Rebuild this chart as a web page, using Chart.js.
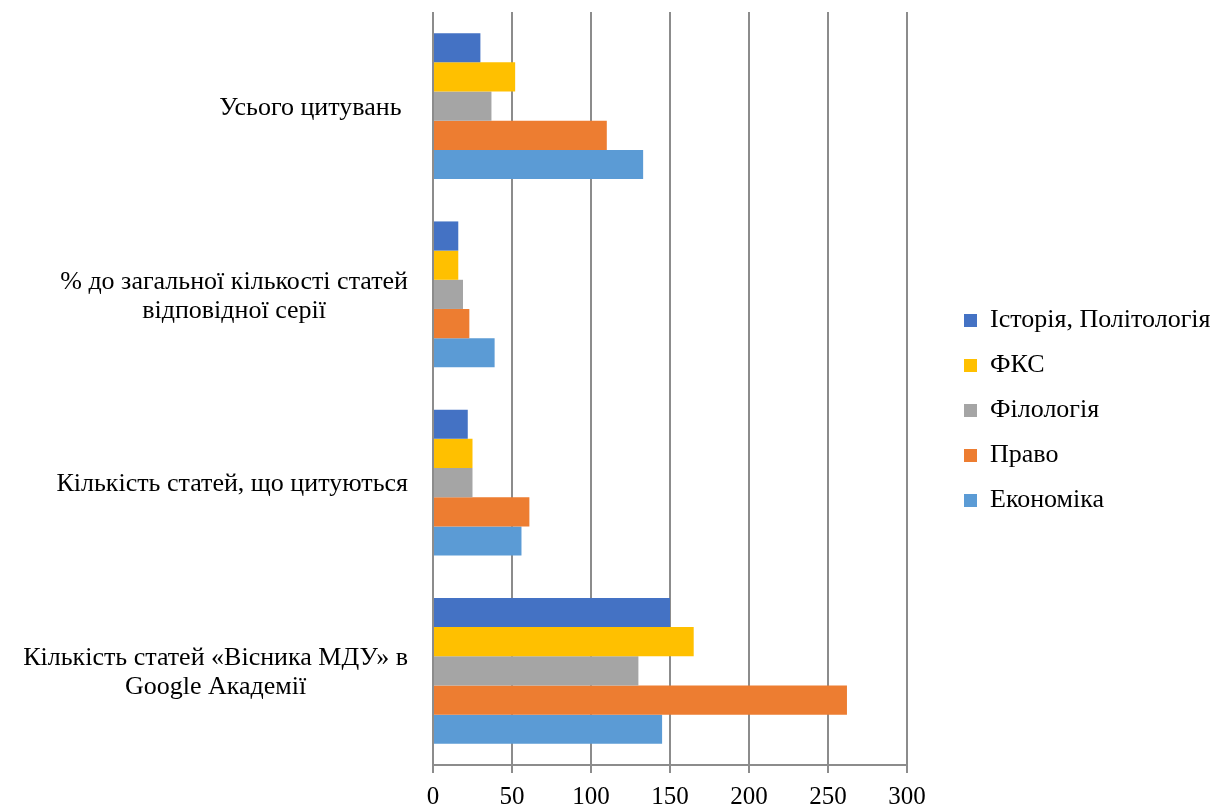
<!DOCTYPE html>
<html>
<head>
<meta charset="utf-8">
<script src="https://cdn.jsdelivr.net/npm/chart.js@4.4.1/dist/chart.umd.min.js"></script>
<style>
  html, body { margin: 0; padding: 0; background: #fff; }
  #chart { display: block; }
</style>
</head>
<body>
<canvas id="chart" width="1231" height="809"></canvas>
<script>
// Citations of "Visnyk MDU" articles by series

const categories = [
  ['Усього цитувань '],
  ['% до загальної кількості статей', 'відповідної серії'],
  ['Кількість статей, що цитуються'],
  ['Кількість статей «Вісника МДУ» в', 'Google Академії']
];

const seriesNames = ['Історія, Політологія', 'ФКС', 'Філологія', 'Право', 'Економіка'];

const historyPolitology = [30, 16, 22, 150];
const fks = [52, 16, 25, 165];
const philology = [37, 19, 25, 130];
const law = [110, 23, 61, 262];
const economics = [133, 39, 56, 145];

const xTicks = [0, 50, 100, 150, 200, 250, 300];

const seriesColors = ['#4472C4', '#FFC000', '#A5A5A5', '#ED7D31', '#5B9BD5'];

const FONT = '"Liberation Serif", "Times New Roman", serif';
const LABEL_SIZE = 26;
const GRID = '#8c8c8c';

// Category labels: block right-aligned, lines centered inside the block
const categoryLabels = {
  id: 'categoryLabels',
  afterDraw(chart) {
    const ctx = chart.ctx;
    const yScale = chart.scales.y;
    ctx.save();
    ctx.font = LABEL_SIZE + 'px ' + FONT;
    ctx.fillStyle = '#000';
    ctx.textAlign = 'center';
    ctx.textBaseline = 'middle';
    categories.forEach((lines, i) => {
      const w = Math.max(...lines.map(l => ctx.measureText(l).width));
      const cx = yScale.right - 25 - w / 2;
      const cy = yScale.getPixelForValue(i) + 2;
      lines.forEach((line, k) => {
        ctx.fillText(line, cx, cy + (k - (lines.length - 1) / 2) * 29);
      });
    });
    ctx.restore();
  }
};

// push the legend a bit away from the plot
const legendGap = {
  id: 'legendGap',
  afterLayout(chart) {
    chart.legend.left += 38;
    chart.legend.right += 38;
  }
};

const allSeries = [historyPolitology, fks, philology, law, economics];

new Chart(document.getElementById('chart'), {
  type: 'bar',
  data: {
    labels: categories.map(l => l.join(' ')),
    datasets: allSeries.map((values, i) => ({
      label: seriesNames[i],
      data: values,
      backgroundColor: seriesColors[i],
      borderWidth: 0
    }))
  },
  options: {
    indexAxis: 'y',
    responsive: false,
    animation: false,
    devicePixelRatio: 1,
    layout: { padding: { top: 12, right: 0, left: 0, bottom: 0 } },
    datasets: {
      bar: { barPercentage: 1, categoryPercentage: 0.775 }
    },
    scales: {
      x: {
        min: 0,
        max: 300,
        afterBuildTicks: scale => { scale.ticks = xTicks.map(v => ({ value: v })); },
        afterFit: scale => { scale.paddingRight = 324; scale.height = 44; },
        grid: { color: GRID, lineWidth: 2, tickLength: 8, drawTicks: true },
        border: { color: GRID, width: 2 },
        ticks: { color: '#000', font: { family: FONT, size: 25 }, padding: 9 }
      },
      y: {
        grid: { display: false },
        border: { display: false },
        ticks: { display: false },
        afterFit: scale => { scale.width = 433; }
      }
    },
    plugins: {
      legend: {
        position: 'right',
        labels: {
          color: '#000',
          font: { family: FONT, size: LABEL_SIZE },
          boxWidth: 13,
          boxHeight: 13,
          padding: 19
        }
      },
      tooltip: { enabled: false }
    }
  },
  plugins: [categoryLabels, legendGap]
});
</script>
</body>
</html>
